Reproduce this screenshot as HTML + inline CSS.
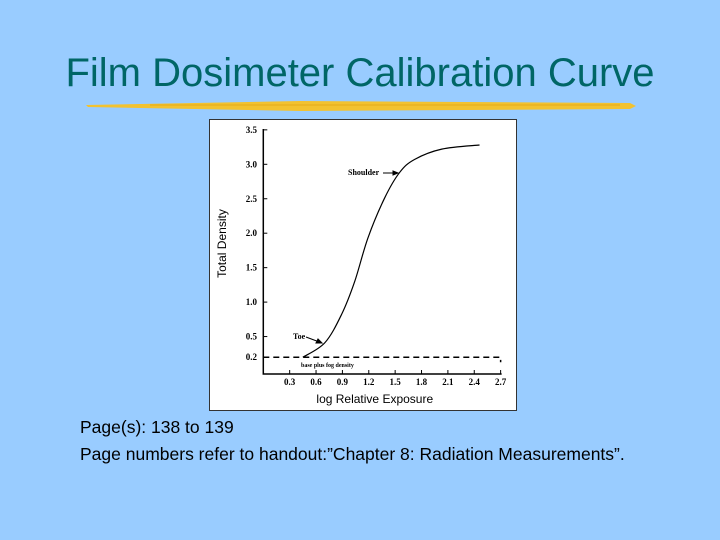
<!DOCTYPE html>
<html><head><meta charset="utf-8"><style>
html,body{margin:0;padding:0}
body{width:720px;height:540px;background:#99ccff;position:relative;overflow:hidden;font-family:"Liberation Sans",sans-serif}
#title{position:absolute;left:0;width:720px;top:50px;text-align:center;font-size:40px;line-height:46px;color:#006666;white-space:nowrap}
.note{position:absolute;left:80px;font-size:17.5px;color:#000;white-space:nowrap}
</style></head><body>
<div id="title">Film Dosimeter Calibration Curve</div>
<svg style="position:absolute;left:0;top:0" width="720" height="130">
<path d="M86 105 L300 101 L630 103 L636 106 L630 109 L300 111 L88 107 Z" fill="#f2c230"/>
<path d="M150 104 L620 104 L620 106 L150 106 Z" fill="#e8b020" opacity="0.7"/>
</svg>
<svg id="chart" style="position:absolute;left:0;top:0" width="720" height="540"></svg>
<div class="note" style="top:417px">Page(s): 138 to 139</div>
<div class="note" style="top:444px">Page numbers refer to handout:”Chapter 8: Radiation Measurements”.</div>
<script>
const xTicks=[0.3,0.6,0.9,1.2,1.5,1.8,2.1,2.4,2.7];
const yTicks=[0.2,0.5,1.0,1.5,2.0,2.5,3.0,3.5];
const curveX=[0.45,0.70,0.89,1.04,1.19,1.38,1.55,1.72,2.03,2.46];
const curveY=[0.2,0.41,0.82,1.30,1.93,2.51,2.88,3.07,3.22,3.28];
const baseFog=[0.2];
const NS="http://www.w3.org/2000/svg";
const svg=document.getElementById('chart');
const sx=v=>263.3+v*87.9;
const sy=v=>371-v*68.9;
function mk(t,a,txt){const e=document.createElementNS(NS,t);for(const k in a)e.setAttribute(k,a[k]);if(txt!==undefined)e.textContent=txt;svg.appendChild(e);return e;}
let e=mk('rect',{x:209.5,y:119.5,width:307,height:291,fill:'#fff',stroke:'#333','stroke-width':1});


e=mk('path',{d:`M${sx(0)} 129 L${sx(0)} 374 L${sx(2.7)+1} 374`,stroke:'#000','stroke-width':1.5,fill:'none'});


xTicks.forEach(v=>{
 e=mk('line',{x1:sx(v),x2:sx(v),y1:374,y2:370,stroke:'#000'});
 
 
 e=mk('text',{x:sx(v),y:385,'font-size':9,'font-weight':'bold','font-family':'Liberation Serif,serif','text-anchor':'middle'},v.toFixed(1));
 
 
});
yTicks.forEach(v=>{
 e=mk('line',{x1:sx(0),x2:sx(0)+4,y1:sy(v),y2:sy(v),stroke:'#000'});
 
 
 e=mk('text',{x:257,y:sy(v)+3,'font-size':9,'font-weight':'bold','font-family':'Liberation Serif,serif','text-anchor':'end'},v.toFixed(1));
 
 
});
e=mk('text',{x:sx(1.2)+6,y:403,'font-size':12,'text-anchor':'middle'},'log Relative Exposure');


e=mk('text',{x:0,y:0,'font-size':12,'text-anchor':'middle',transform:`translate(226,${sy(1.85)}) rotate(-90)`},'Total Density');


e=mk('path',{d:`M${sx(0)} ${sy(baseFog[0])} L${sx(2.7)} ${sy(baseFog[0])} L${sx(2.7)} ${sy(baseFog[0])+5}`,stroke:'#000','stroke-width':1.5,'stroke-dasharray':'6,4',fill:'none'});


e=mk('text',{x:301,y:367,'font-size':6,'font-weight':'bold','font-family':'Liberation Serif,serif'},'base plus fog density');


const P=curveX.map((x,i)=>[sx(x),sy(curveY[i])]);
let d=`M${P[0][0]} ${P[0][1]}`;
for(let i=0;i<P.length-1;i++){const p0=P[i-1]||P[i],p1=P[i],p2=P[i+1],p3=P[i+2]||p2;
 d+=` C${p1[0]+(p2[0]-p0[0])/6} ${p1[1]+(p2[1]-p0[1])/6} ${p2[0]-(p3[0]-p1[0])/6} ${p2[1]-(p3[1]-p1[1])/6} ${p2[0]} ${p2[1]}`;}
e=mk('path',{d:d,stroke:'#000','stroke-width':1.2,fill:'none'});


e=mk('text',{x:348,y:175,'font-size':8,'font-weight':'bold','font-family':'Liberation Serif,serif'},'Shoulder');


e=mk('path',{d:'M383 173 L398 173 M398 173 L393 171 L393 175 Z',stroke:'#000',fill:'#000'});


e=mk('text',{x:293,y:339,'font-size':8,'font-weight':'bold','font-family':'Liberation Serif,serif'},'Toe');


e=mk('path',{d:'M306 337 L322 343 M322 343 L316 343 L318 339 Z',stroke:'#000',fill:'#000'});


</script>
</body></html>
